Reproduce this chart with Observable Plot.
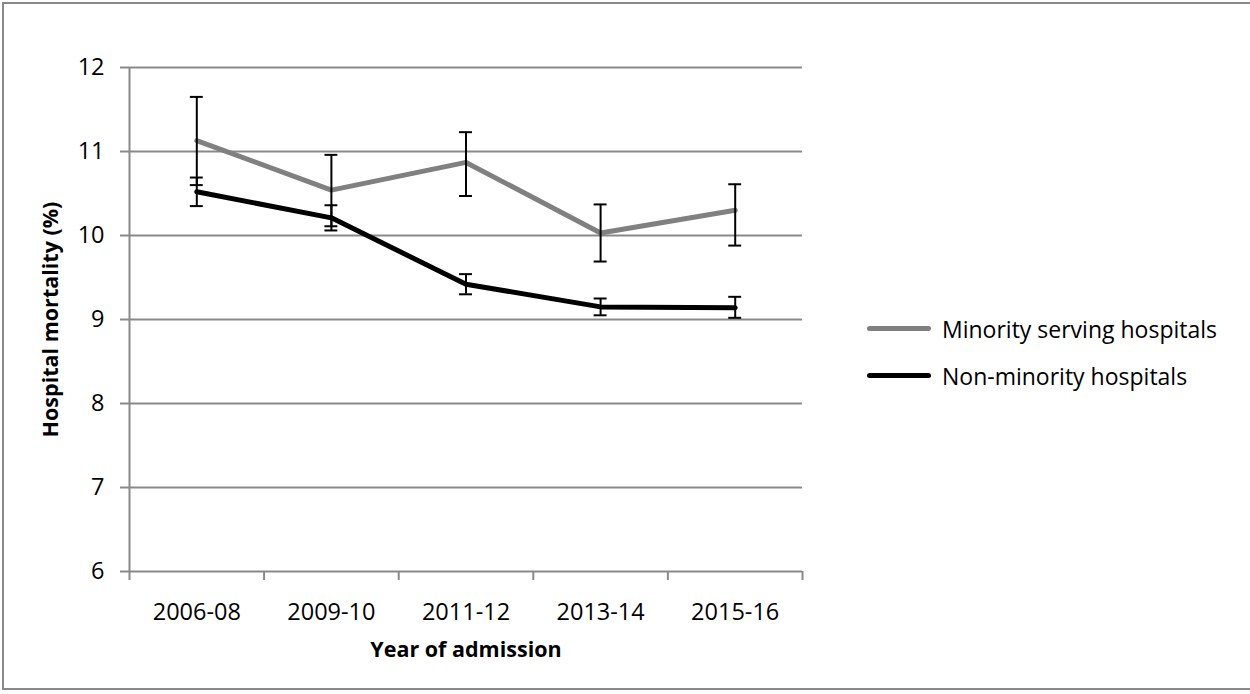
<!DOCTYPE html>
<html>
<head>
<meta charset="utf-8">
<script src="https://cdn.jsdelivr.net/npm/d3@7"></script>
<script src="https://cdn.jsdelivr.net/npm/@observablehq/plot@0.6"></script>
<style>
  html, body { margin: 0; padding: 0; background: #fff; overflow: hidden; }
  #wrap { position: relative; width: 1250px; height: 694px; font-family: "Open Sans", sans-serif; }
  #border { position: absolute; left: 2px; top: 2px; width: 1260px; height: 688px; border: 2px solid #898989; box-sizing: border-box; pointer-events: none; }
  #legend { position: absolute; left: 867px; top: 305px; font-size: 23px; color: #000; }
  .item { display: flex; align-items: center; height: 47px; white-space: nowrap; }
  .swatch { width: 64px; height: 5px; border-radius: 3px; margin-right: 11px; }
</style>
</head>
<body>
<div id="wrap">
  <div id="chart"></div>
  <div id="legend"></div>
  <div id="border"></div>
</div>
<script>
// Admission periods
const periods = ["2006-08", "2009-10", "2011-12", "2013-14", "2015-16"];

// Minority serving hospitals: mortality (%) with confidence bounds
const minorityRate = [11.13, 10.54, 10.87, 10.03, 10.30];
const minorityLow  = [10.60, 10.11, 10.47, 9.69, 9.88];
const minorityHigh = [11.65, 10.96, 11.23, 10.37, 10.61];

// Non-minority hospitals: mortality (%) with confidence bounds
const nonMinorityRate = [10.52, 10.21, 9.42, 9.15, 9.14];
const nonMinorityLow  = [10.35, 10.06, 9.30, 9.05, 9.02];
const nonMinorityHigh = [10.69, 10.36, 9.54, 9.25, 9.27];

const yTicks = [6, 7, 8, 9, 10, 11, 12];

const seriesNames = ["Minority serving hospitals", "Non-minority hospitals"];
const seriesColors = ["#808080", "#000000"];

// Categories sit in the middle of equal-width slots on a 0..n axis
const rows = (rate, low, high, name) =>
  periods.map((p, i) => ({ period: p, pos: i + 0.5, rate: rate[i], low: low[i], high: high[i], series: name }));

const minority = rows(minorityRate, minorityLow, minorityHigh, seriesNames[0]);
const nonMinority = rows(nonMinorityRate, nonMinorityLow, nonMinorityHigh, seriesNames[1]);
const all = minority.concat(nonMinority);

const n = periods.length;
const capHalf = 0.048; // half-width of the error bar caps, in slot units
const gridColor = "#898989";
const tickFont = 23.5;
const titleFont = 21.5;

const chart = Plot.plot({
  width: 1250,
  height: 694,
  marginLeft: 129,
  marginRight: 448,
  marginTop: 67,
  marginBottom: 123,
  style: { fontFamily: "'Open Sans', sans-serif", fontSize: "18px", color: "#000", background: "transparent" },
  x: { domain: [0, n], axis: null },
  y: { domain: [6, 12], axis: null },
  marks: [
    // horizontal gridlines
    Plot.ruleY(yTicks.filter(t => t > 6), { stroke: gridColor, strokeWidth: 2 }),
    // axis lines
    Plot.ruleY([6], { stroke: gridColor, strokeWidth: 2 }),
    Plot.ruleX([0], { stroke: gridColor, strokeWidth: 2 }),
    // y axis ticks and labels
    Plot.axisY({ ticks: yTicks, tickSize: 9, tickPadding: 16, tickFormat: d3.format("d"), stroke: gridColor, strokeWidth: 2, label: null, fontSize: tickFont }),
    // x axis slot boundary ticks
    Plot.axisX({ ticks: d3.range(n + 1), tickSize: 9, tickFormat: () => "", stroke: gridColor, strokeWidth: 2, label: null }),
    // x axis category labels
    Plot.axisX({ ticks: periods.map((p, i) => i + 0.5), tickSize: 0, tickPadding: 32, tickFormat: v => periods[Math.round(v - 0.5)], label: null, fontSize: tickFont }),
    // axis titles
    Plot.text(["Year of admission"], { frameAnchor: "bottom", dy: 79, text: d => d, fontWeight: "bold", fontSize: titleFont, lineAnchor: "middle" }),
    Plot.text(["Hospital mortality (%)"], { frameAnchor: "left", dx: -78, rotate: -90, textAnchor: "middle", text: d => d, fontWeight: "bold", fontSize: titleFont, lineAnchor: "middle" }),
    // series lines
    Plot.line(minority, { x: "pos", y: "rate", stroke: seriesColors[0], strokeWidth: 5, strokeLinejoin: "round", strokeLinecap: "round" }),
    Plot.line(nonMinority, { x: "pos", y: "rate", stroke: seriesColors[1], strokeWidth: 5, strokeLinejoin: "round", strokeLinecap: "round" }),
    // error bars
    Plot.ruleX(all, { x: "pos", y1: "low", y2: "high", stroke: "#000", strokeWidth: 2 }),
    Plot.ruleY(all, { y: "low", x1: d => d.pos - capHalf, x2: d => d.pos + capHalf, stroke: "#000", strokeWidth: 2 }),
    Plot.ruleY(all, { y: "high", x1: d => d.pos - capHalf, x2: d => d.pos + capHalf, stroke: "#000", strokeWidth: 2 })
  ]
});
document.getElementById("chart").appendChild(chart);

// Legend to the right of the plot
const legend = document.getElementById("legend");
seriesNames.forEach((name, i) => {
  const item = document.createElement("div");
  item.className = "item";
  const sw = document.createElement("span");
  sw.className = "swatch";
  sw.style.background = seriesColors[i];
  const label = document.createElement("span");
  label.textContent = name;
  item.appendChild(sw);
  item.appendChild(label);
  legend.appendChild(item);
});
</script>
</body>
</html>
